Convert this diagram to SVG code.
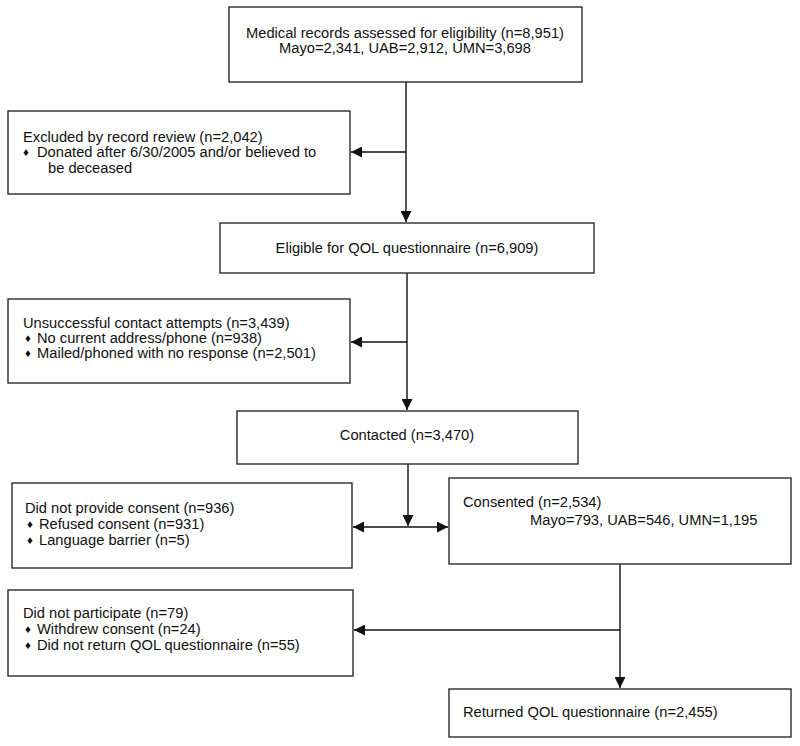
<svg xmlns="http://www.w3.org/2000/svg" width="800" height="746" viewBox="0 0 800 746">
<defs>
<style>
.box{fill:#fff;stroke:#2b2b2b;stroke-width:1.4}
.t{font-family:"Liberation Sans",Arial,sans-serif;font-size:14.7px;fill:#111}
.c{text-anchor:middle}
.b{font-family:"Liberation Sans","DejaVu Sans",sans-serif;font-size:11.5px;fill:#111}
.ln{stroke:#111;stroke-width:1.4;fill:none}
</style>
<marker id="ah" viewBox="0 0 10 10" refX="10" refY="5" markerWidth="11" markerHeight="11" markerUnits="userSpaceOnUse" orient="auto-start-reverse">
<path d="M0,0 L10,5 L0,10 Z" fill="#111"/>
</marker>
</defs>
<rect width="800" height="746" fill="#fff"/>

<g id="connectors">
<line class="ln" x1="406" y1="82" x2="406" y2="222" marker-end="url(#ah)"/>
<line class="ln" x1="406" y1="152" x2="351" y2="152" marker-end="url(#ah)"/>
<line class="ln" x1="407" y1="273" x2="407" y2="410" marker-end="url(#ah)"/>
<line class="ln" x1="407" y1="342" x2="351" y2="342" marker-end="url(#ah)"/>
<line class="ln" x1="408" y1="464" x2="408" y2="526" marker-end="url(#ah)"/>
<line class="ln" x1="353" y1="527" x2="448" y2="527" marker-start="url(#ah)" marker-end="url(#ah)"/>
<line class="ln" x1="620" y1="564" x2="620" y2="688" marker-end="url(#ah)"/>
<line class="ln" x1="620" y1="630" x2="354" y2="630" marker-end="url(#ah)"/>
</g>

<g id="n_records">
<rect class="box" x="229" y="7" width="353" height="75"/>
<text class="t c" x="405" y="38">Medical records assessed for eligibility (n=8,951)</text>
<text class="t c" x="405" y="53">Mayo=2,341, UAB=2,912, UMN=3,698</text>
</g>

<g id="n_excluded">
<rect class="box" x="8" y="111" width="342" height="83"/>
<text class="t" x="23" y="142">Excluded by record review (n=2,042)</text>
<text class="b" x="23" y="156">♦</text>
<text class="t" x="37" y="157">Donated after 6/30/2005 and/or believed to</text>
<text class="t" x="48" y="173">be deceased</text>
</g>

<g id="n_eligible">
<rect class="box" x="220" y="223" width="374" height="50"/>
<text class="t c" x="407" y="253">Eligible for QOL questionnaire (n=6,909)</text>
</g>

<g id="n_unsuccessful">
<rect class="box" x="8" y="299" width="342" height="84"/>
<text class="t" x="23" y="328">Unsuccessful contact attempts (n=3,439)</text>
<text class="b" x="25" y="342">♦</text>
<text class="t" x="37" y="343">No current address/phone (n=938)</text>
<text class="b" x="25" y="357">♦</text>
<text class="t" x="37" y="358">Mailed/phoned with no response (n=2,501)</text>
</g>

<g id="n_contacted">
<rect class="box" x="237" y="411" width="341" height="53"/>
<text class="t c" x="407" y="440">Contacted (n=3,470)</text>
</g>

<g id="n_noconsent">
<rect class="box" x="12" y="483" width="340" height="85"/>
<text class="t" x="25" y="513">Did not provide consent (n=936)</text>
<text class="b" x="27" y="528">♦</text>
<text class="t" x="39" y="529">Refused consent (n=931)</text>
<text class="b" x="27" y="544">♦</text>
<text class="t" x="39" y="545">Language barrier (n=5)</text>
</g>

<g id="n_consented">
<rect class="box" x="449" y="478" width="342" height="86"/>
<text class="t" x="463" y="507">Consented (n=2,534)</text>
<text class="t" x="530" y="525">Mayo=793, UAB=546, UMN=1,195</text>
</g>

<g id="n_notparticipate">
<rect class="box" x="8" y="590" width="345" height="86"/>
<text class="t" x="23" y="618">Did not participate (n=79)</text>
<text class="b" x="25" y="633">♦</text>
<text class="t" x="37" y="634">Withdrew consent (n=24)</text>
<text class="b" x="25" y="649">♦</text>
<text class="t" x="37" y="650">Did not return QOL questionnaire (n=55)</text>
</g>

<g id="n_returned">
<rect class="box" x="449" y="689" width="342" height="48"/>
<text class="t" x="463" y="717">Returned QOL questionnaire (n=2,455)</text>
</g>
</svg>
